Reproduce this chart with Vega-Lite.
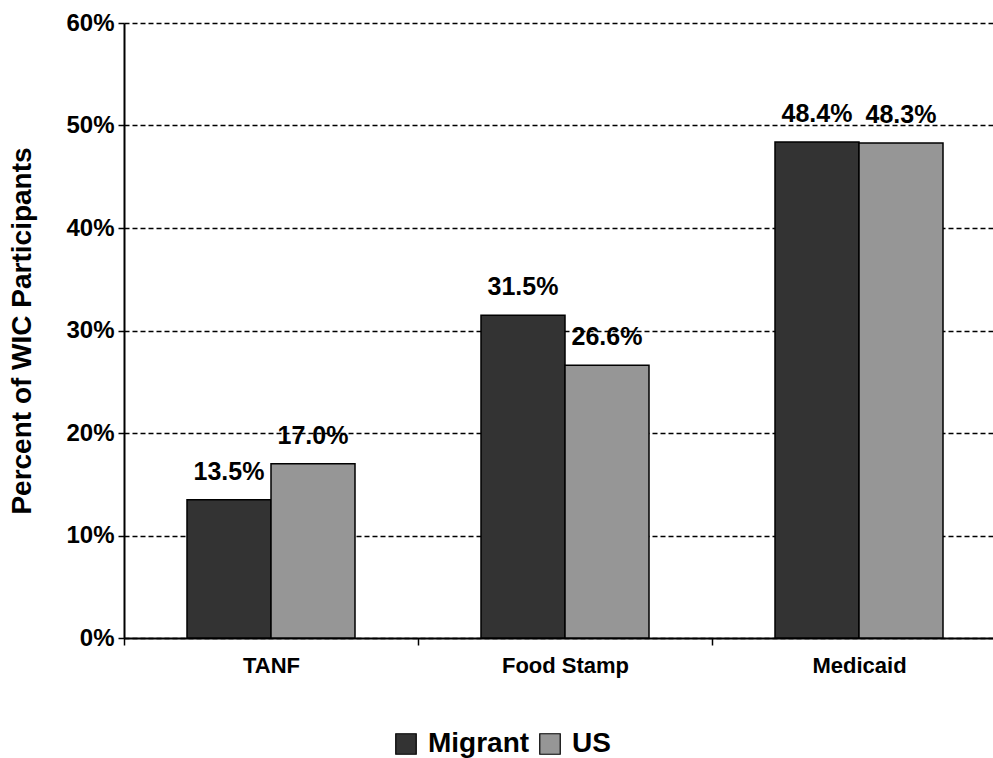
{
  "$schema": "https://vega.github.io/schema/vega-lite/v6.json",
  "width": 882,
  "height": 615,
  "autosize": {"type": "none"},
  "padding": {"left": 124, "top": 23, "right": 0, "bottom": 120},
  "background": "white",
  "config": {
    "font": "Liberation Sans",
    "view": {"stroke": null}
  },
  "data": {
    "values": [
      {"program": "TANF", "group": "Migrant", "value": 0.135},
      {"program": "TANF", "group": "US", "value": 0.170},
      {"program": "Food Stamp", "group": "Migrant", "value": 0.315},
      {"program": "Food Stamp", "group": "US", "value": 0.266},
      {"program": "Medicaid", "group": "Migrant", "value": 0.484},
      {"program": "Medicaid", "group": "US", "value": 0.483}
    ]
  },
  "encoding": {
    "x": {
      "field": "program", "type": "nominal", "sort": ["TANF", "Food Stamp", "Medicaid"],
      "scale": {"paddingInner": 0, "paddingOuter": 0},
      "axis": {
        "title": null, "labelAngle": 0, "labelFont": "Liberation Sans", "labelFontWeight": "bold",
        "labelFontSize": 22, "labelColor": "black", "labelPadding": 10,
        "tickBand": "extent", "tickColor": "black", "tickSize": 7, "tickWidth": 1.5,
        "domainColor": "black", "domainWidth": 2, "grid": false
      }
    },
    "xOffset": {"field": "group", "type": "nominal", "scale": {"paddingInner": 0, "paddingOuter": 0.75}},
    "y": {
      "field": "value", "type": "quantitative",
      "scale": {"domain": [0, 0.6], "nice": false},
      "axis": {
        "title": "Percent of WIC Participants", "titleFont": "Liberation Sans", "titleFontWeight": "bold",
        "titleFontSize": 28, "titleColor": "black", "titlePadding": 29,
        "values": [0, 0.1, 0.2, 0.3, 0.4, 0.5, 0.6],
        "format": ".0%",
        "labelFont": "Liberation Sans", "labelFontWeight": "bold", "labelFontSize": 24, "labelColor": "black",
        "labelPadding": 4,
        "tickColor": "black", "tickSize": 6, "tickWidth": 1.5,
        "domainColor": "black", "domainWidth": 2,
        "grid": true, "gridColor": "black", "gridDash": [5, 3], "gridWidth": 1.3, "gridOpacity": 1
      }
    }
  },
  "layer": [
    {
      "mark": {"type": "bar", "stroke": "black", "strokeWidth": 1.5},
      "encoding": {
        "color": {
          "field": "group", "type": "nominal",
          "scale": {"domain": ["Migrant", "US"], "range": ["#333333", "#969696"]},
          "legend": {
            "title": null, "orient": "none", "direction": "horizontal",
            "legendX": 268, "legendY": 707,
            "symbolType": "square", "symbolSize": 420, "symbolStrokeColor": "black", "symbolStrokeWidth": 1.2,
            "labelFont": "Liberation Sans", "labelFontWeight": "bold", "labelFontSize": 28, "labelColor": "black",
            "labelOffset": 8, "columnPadding": 6
          }
        }
      }
    },
    {
      "mark": {"type": "text", "baseline": "alphabetic", "dy": -20, "fontWeight": "bold", "fontSize": 25, "font": "Liberation Sans", "color": "black"},
      "encoding": {
        "text": {"field": "value", "type": "quantitative", "format": ".1%"},
        "detail": {"field": "group"}
      }
    }
  ]
}
